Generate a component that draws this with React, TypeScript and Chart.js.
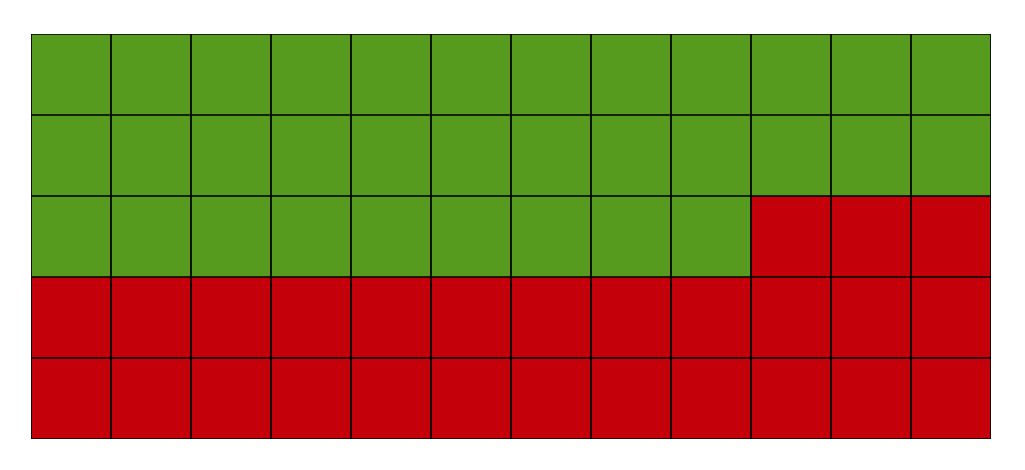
import React, { useEffect, useRef } from "react";
import { Chart, registerables } from "chart.js";

Chart.register(...registerables);

const categories = ["Green", "Red"];
const counts = [33, 27];
const colors = ["#569b1e", "#c4000b"];
const columns = ["1", "2", "3", "4", "5", "6", "7", "8", "9", "10", "11", "12"];
const rowCount = 5;

export default function App() {
  const ref = useRef<HTMLCanvasElement>(null);
  useEffect(() => {
    document.body.style.margin = "0";
    const cols = columns.length;
    // cell colour in reading order from top-left
    const cellColor = (idx: number) => {
      let acc = 0;
      for (let i = 0; i < counts.length; i++) {
        acc += counts[i];
        if (idx < acc) return colors[i];
      }
      return "#ffffff";
    };
    const datasets = [];
    for (let r = rowCount - 1; r >= 0; r--) {
      datasets.push({
        label: `row${r + 1}`,
        data: columns.map(() => 1),
        backgroundColor: columns.map((_, c) => cellColor(r * cols + c)),
        borderColor: "#000000",
        borderWidth: 1.2,
        borderSkipped: false as const,
        barPercentage: 1,
        categoryPercentage: 1,
      });
    }
    const chart = new Chart(ref.current!, {
      type: "bar",
      data: { labels: columns, datasets },
      options: {
        animation: false,
        responsive: false,
        maintainAspectRatio: false,
        layout: { padding: { left: 31, top: 34, right: 34, bottom: 31 } },
        plugins: { legend: { display: false }, tooltip: { enabled: false } },
        scales: {
          x: { stacked: true, display: false },
          y: { stacked: true, display: false, min: 0, max: rowCount },
        },
      },
    });
    return () => chart.destroy();
  }, []);
  return <canvas ref={ref} width={1025} height={470} style={{ display: "block" }} />;
}
